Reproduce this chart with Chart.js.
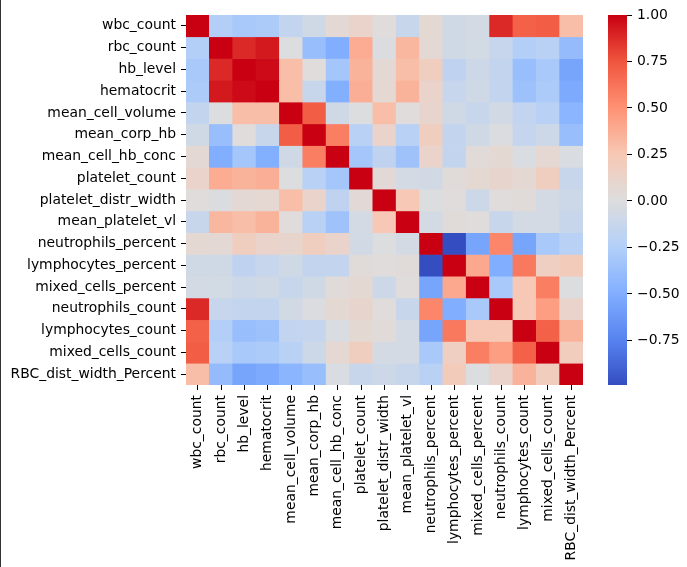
<!DOCTYPE html>
<html>
<head>
<meta charset="utf-8">
<script src="https://cdn.jsdelivr.net/npm/chart.js@4.4.0/dist/chart.umd.min.js"></script>
<style>
  html, body { margin: 0; padding: 0; background: #fff; }
  #wrap { position: relative; width: 687px; height: 567px; overflow: hidden; }
  #kante { position: absolute; left: 0; top: 0; width: 1px; height: 567px; background: #333; }
  #heat { position: absolute; left: 0; top: 0; }
  #cbar { position: absolute; left: 560px; top: 0; }
</style>
</head>
<body>
<div id="wrap">
  <canvas id="heat" width="600" height="567"></canvas>
  <canvas id="cbar" width="127" height="567"></canvas>
  <div id="kante"></div>
</div>
<script>
// variable names (rows top to bottom, columns left to right)
var labels = ['wbc_count', 'rbc_count', 'hb_level', 'hematocrit', 'mean_cell_volume',
    'mean_corp_hb', 'mean_cell_hb_conc', 'platelet_count', 'platelet_distr_width',
    'mean_platelet_vl', 'neutrophils_percent', 'lymphocytes_percent', 'mixed_cells_percent',
    'neutrophils_count', 'lymphocytes_count', 'mixed_cells_count', 'RBC_dist_width_Percent'];

// correlation matrix
var corr = [
    [1, -0.25, -0.3, -0.28, -0.15, -0.08, 0.06, 0.12, 0.02, -0.12, 0.07, -0.08, -0.05, 0.88, 0.7, 0.72, 0.3],
    [-0.25, 1, 0.88, 0.93, 0.0, -0.38, -0.5, 0.38, -0.01, 0.33, 0.06, -0.08, -0.06, -0.13, -0.25, -0.22, -0.4],
    [-0.3, 0.88, 1, 0.97, 0.3, 0.02, -0.32, 0.35, 0.06, 0.3, 0.18, -0.18, -0.1, -0.15, -0.38, -0.3, -0.55],
    [-0.28, 0.93, 0.97, 1, 0.3, -0.12, -0.49, 0.37, 0.08, 0.35, 0.12, -0.13, -0.08, -0.15, -0.36, -0.28, -0.52],
    [-0.15, 0.0, 0.3, 0.3, 1, 0.72, -0.08, 0.0, 0.3, 0.02, 0.1, -0.08, -0.12, -0.07, -0.16, -0.22, -0.45],
    [-0.08, -0.38, 0.02, -0.12, 0.72, 1, 0.58, -0.22, 0.12, -0.22, 0.18, -0.15, -0.08, -0.01, -0.14, -0.1, -0.38],
    [0.06, -0.5, -0.32, -0.49, -0.08, 0.58, 1, -0.32, -0.18, -0.35, 0.12, -0.15, 0.03, 0.07, -0.02, 0.08, -0.02],
    [0.12, 0.38, 0.35, 0.37, 0.0, -0.22, -0.32, 1, 0.05, -0.05, -0.07, 0.03, 0.07, 0.1, 0.07, 0.18, -0.12],
    [0.02, -0.01, 0.06, 0.08, 0.3, 0.12, -0.18, 0.05, 1, 0.25, 0.0, 0.02, -0.1, 0.02, 0.03, -0.05, -0.1],
    [-0.12, 0.33, 0.3, 0.35, 0.02, -0.22, -0.35, -0.05, 0.25, 1, -0.05, 0.03, 0.02, -0.12, -0.05, -0.05, -0.12],
    [0.07, 0.06, 0.18, 0.12, 0.1, 0.18, 0.12, -0.07, 0.0, -0.05, 1, -0.99, -0.55, 0.55, -0.55, -0.3, -0.22],
    [-0.08, -0.08, -0.18, -0.13, -0.08, -0.15, -0.15, 0.03, 0.02, 0.03, -0.99, 1, 0.4, -0.5, 0.6, 0.17, 0.22],
    [-0.05, -0.06, -0.1, -0.08, -0.12, -0.08, 0.03, 0.07, -0.1, 0.02, -0.55, 0.4, 1, -0.3, 0.25, 0.58, 0.0],
    [0.88, -0.13, -0.15, -0.15, -0.07, -0.01, 0.07, 0.1, 0.02, -0.12, 0.55, -0.5, -0.3, 1, 0.25, 0.45, 0.12],
    [0.7, -0.25, -0.38, -0.36, -0.16, -0.14, -0.02, 0.07, 0.03, -0.05, -0.55, 0.6, 0.25, 0.25, 1, 0.7, 0.35],
    [0.72, -0.22, -0.3, -0.28, -0.22, -0.1, 0.08, 0.18, -0.05, -0.05, -0.3, 0.17, 0.58, 0.45, 0.7, 1, 0.2],
    [0.3, -0.4, -0.55, -0.52, -0.45, -0.38, -0.02, -0.12, -0.1, -0.12, -0.22, 0.22, 0.0, 0.12, 0.35, 0.2, 1]
];

var cbarTicks = [-0.75, -0.5, -0.25, 0, 0.25, 0.5, 0.75, 1];

// colour range like seaborn: min of data .. max of data
var vmin = Math.min.apply(null, corr.map(function (r) { return Math.min.apply(null, r); }));
var vmax = 1;

// coolwarm-ish stops as they look in the picture
var cmap = [
    [0.0, [52, 78, 194]],
    [0.125, [88, 132, 240]],
    [0.25, [130, 175, 255]],
    [0.375, [180, 208, 248]],
    [0.5, [221, 221, 221]],
    [0.625, [247, 200, 180]],
    [0.75, [255, 145, 115]],
    [0.875, [240, 85, 62]],
    [1.0, [200, 0, 18]]
];

function farbe(v) {
    var t = (v - vmin) / (vmax - vmin);
    t = Math.max(0, Math.min(1, t));
    for (var i = 1; i < cmap.length; i++) {
        if (t <= cmap[i][0]) {
            var a = cmap[i - 1], b = cmap[i];
            var f = (t - a[0]) / (b[0] - a[0]);
            var c = a[1].map(function (x, k) { return Math.round(x + (b[1][k] - x) * f); });
            return 'rgb(' + c.join(',') + ')';
        }
    }
    return 'rgb(200,0,18)';
}

var schrift = { family: 'DejaVu Sans', size: 13.9 };

// one stacked dataset per row, every cell one unit high
var datasets = corr.map(function (row, r) {
    return {
        label: labels[r],
        data: row.map(function () { return 1; }),
        backgroundColor: row.map(farbe),
        borderWidth: 0,
        barPercentage: 1,
        categoryPercentage: 1
    };
});

new Chart(document.getElementById('heat'), {
    type: 'bar',
    data: { labels: labels, datasets: datasets },
    options: {
        responsive: false,
        animation: false,
        events: [],
        layout: { padding: { left: 0, top: 15, right: 17, bottom: 0 } },
        plugins: { legend: { display: false }, tooltip: { enabled: false } },
        scales: {
            x: {
                stacked: true,
                afterFit: function (axis) { axis.height = 182; },
                ticks: { autoSkip: false, minRotation: 90, maxRotation: 90, font: schrift, color: '#000', padding: 5 },
                grid: { offset: false, drawOnChartArea: false, tickLength: 5, color: '#000', lineWidth: 1 },
                border: { display: false }
            },
            y: {
                stacked: true,
                reverse: true,
                min: 0,
                max: labels.length,
                afterBuildTicks: function (axis) {
                    axis.ticks = labels.map(function (l, i) { return { value: i + 0.5 }; });
                },
                afterFit: function (axis) { axis.width = 186; },
                ticks: {
                    autoSkip: false,
                    font: schrift,
                    color: '#000',
                    padding: 5,
                    callback: function (v, i) { return labels[i]; }
                },
                grid: { drawOnChartArea: false, tickLength: 5, color: '#000', lineWidth: 1 },
                border: { display: false }
            }
        }
    }
});

// colour bar
new Chart(document.getElementById('cbar'), {
    type: 'bar',
    data: {
        labels: [''],
        datasets: [{
            data: [[vmin, vmax]],
            borderWidth: 0,
            barPercentage: 1,
            categoryPercentage: 1,
            backgroundColor: function (ctx) {
                var chart = ctx.chart;
                if (!chart.chartArea) return '#ddd';
                var y = chart.scales.y;
                var g = chart.ctx.createLinearGradient(0, y.getPixelForValue(vmin), 0, y.getPixelForValue(vmax));
                for (var i = 0; i <= 40; i++) {
                    g.addColorStop(i / 40, farbe(vmin + (vmax - vmin) * i / 40));
                }
                return g;
            }
        }]
    },
    options: {
        responsive: false,
        animation: false,
        events: [],
        layout: { padding: { left: 48, top: 15, right: 0, bottom: 182 } },
        plugins: { legend: { display: false }, tooltip: { enabled: false } },
        scales: {
            x: { display: false },
            y: {
                position: 'right',
                min: vmin,
                max: vmax,
                afterBuildTicks: function (axis) {
                    axis.ticks = cbarTicks.map(function (v) { return { value: v }; });
                },
                afterFit: function (axis) { axis.width = 60; },
                ticks: {
                    font: schrift,
                    color: '#000',
                    padding: 5,
                    callback: function (v) { return v.toFixed(2).replace('-', '\u2212'); }
                },
                grid: { drawOnChartArea: false, tickLength: 5, color: '#000', lineWidth: 1 },
                border: { display: false }
            }
        }
    }
});
</script>
</body>
</html>
